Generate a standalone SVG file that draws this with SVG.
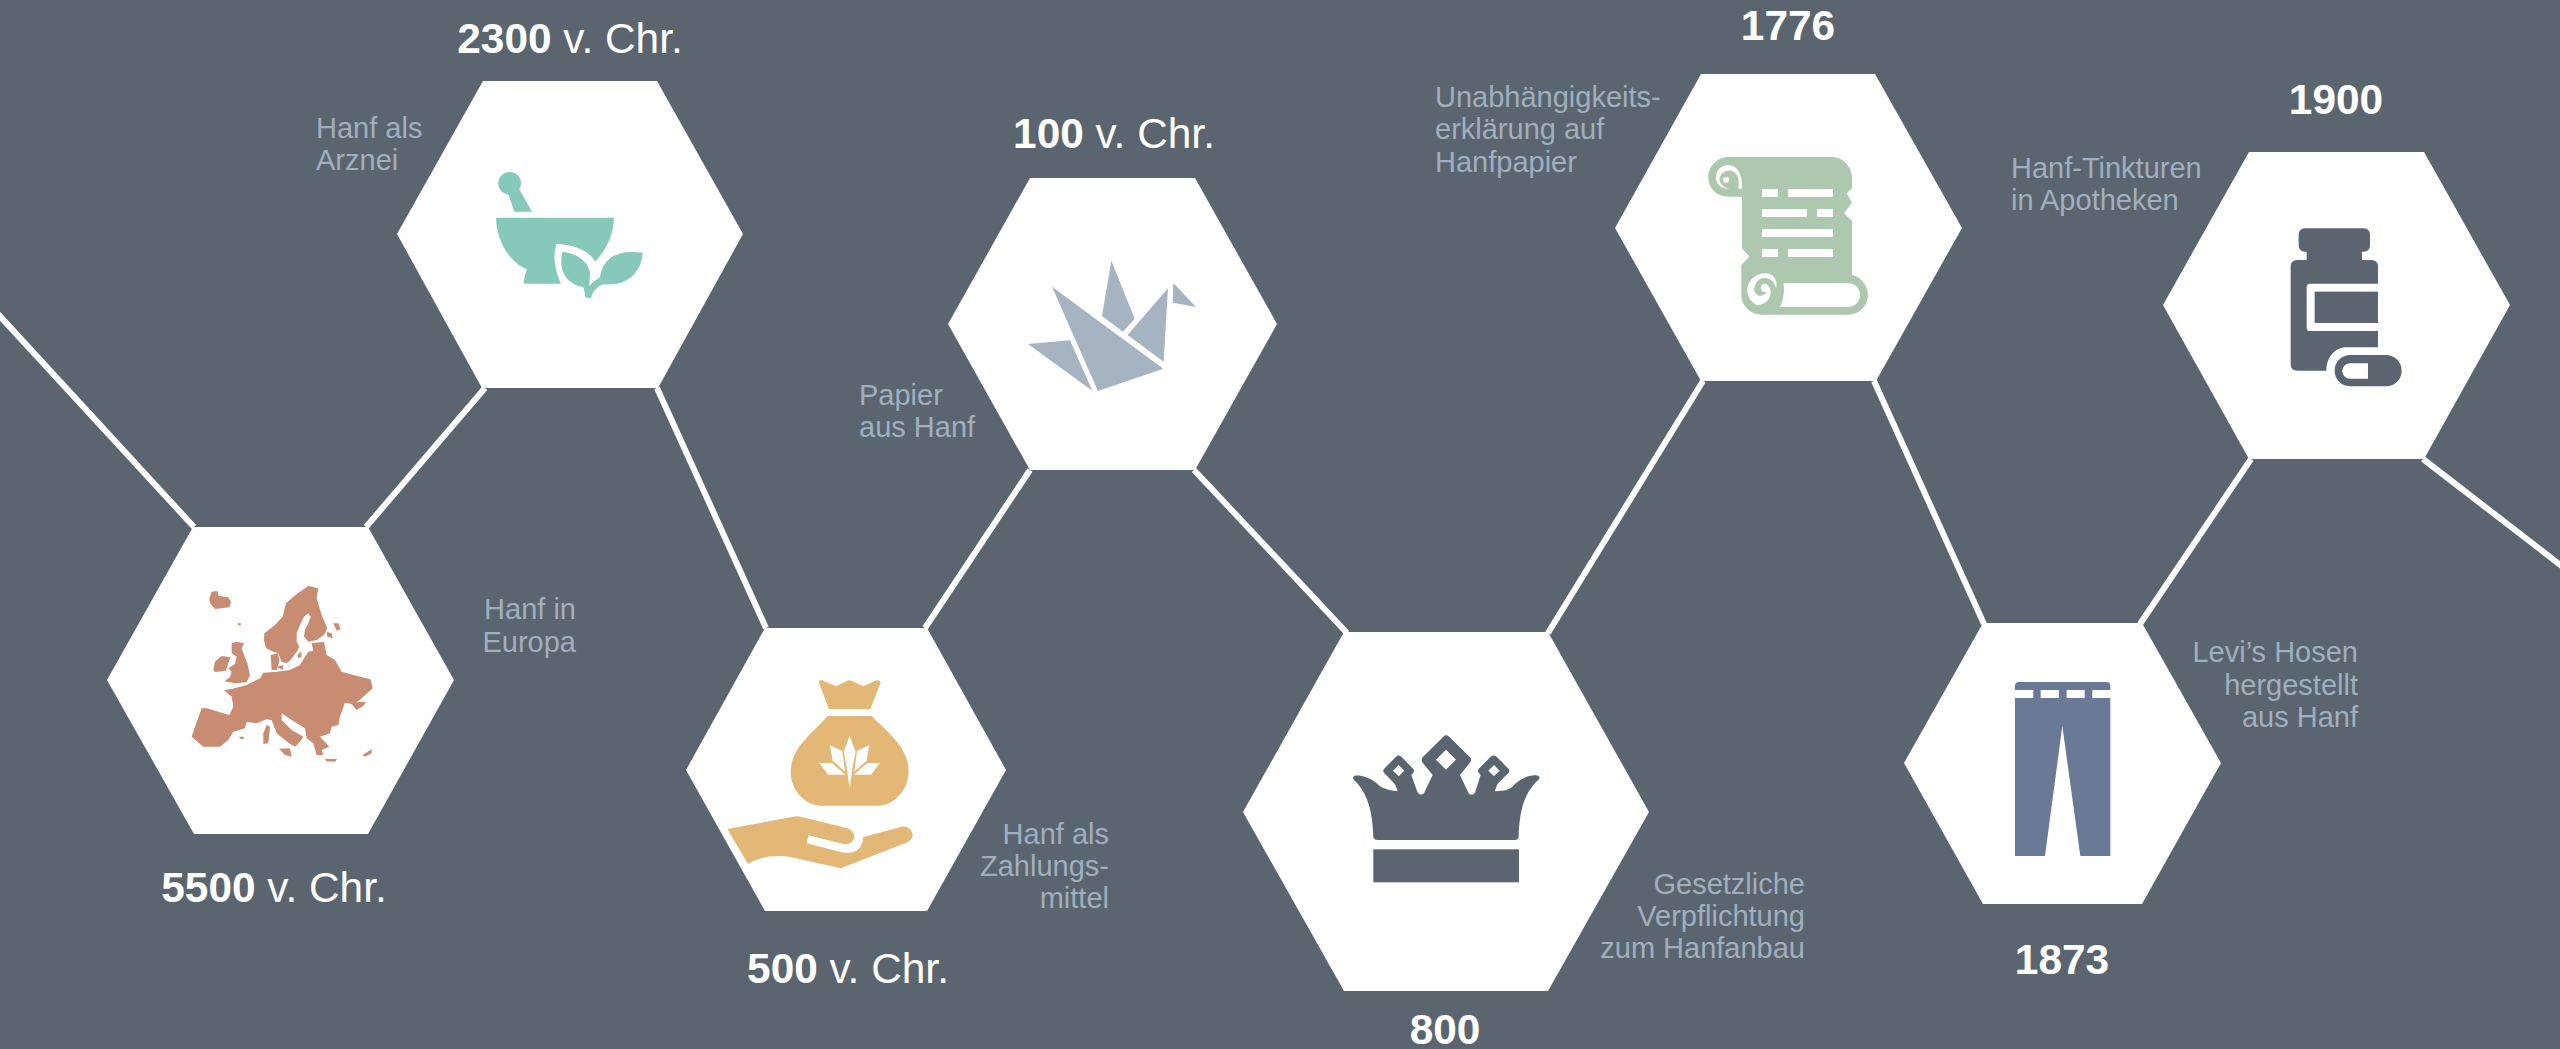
<svg xmlns="http://www.w3.org/2000/svg" width="2560" height="1049" viewBox="0 0 2560 1049">
<style>
.hex{fill:#fff}
.date{font:42.4px "Liberation Sans",Arial,sans-serif;fill:#fff;text-anchor:middle}
.date tspan{font-weight:bold}
.lab{font:29px "Liberation Sans",Arial,sans-serif;fill:#a0afbe}
.r{text-anchor:end}
.conn{stroke:#fff;stroke-width:6;fill:none}
.bgc{fill:#5b6570}
.w{fill:#fff}
</style>
<rect width="2560" height="1049" fill="#5b6570"/>
<g id="connectors" class="conn">
<line x1="-3" y1="313" x2="194" y2="527"/>
<line x1="485" y1="388" x2="366" y2="527"/>
<line x1="657" y1="388" x2="766" y2="628"/>
<line x1="925" y1="628" x2="1030" y2="470"/>
<line x1="1194" y1="470" x2="1347" y2="633"/>
<line x1="1548" y1="633" x2="1703" y2="381"/>
<line x1="1874" y1="381" x2="1984" y2="624"/>
<line x1="2140" y1="624" x2="2251" y2="459"/>
<line x1="2423" y1="459" x2="2563" y2="567"/>
</g>
<g id="node-5500">
<polygon class="hex" points="107,680 193,527 368,527 454,680 368,834 194,834"/>
<g transform="translate(100 520) scale(.3333)" fill="#c78c72">
<path d="M328,235L335,215L352,213L356,228L385,232L393,245L388,262L345,267L330,250Z"/>
<path d="M413,310H423L422,316H414Z"/>
<path d="M340,450L345,425L365,408L392,412L385,430L378,452L345,456Z"/>
<path d="M395,370L410,365L432,370L425,385L432,405L442,430L450,465L440,487L405,490L373,484L390,472L395,455L385,445L405,432L410,410L395,400Z"/>
<path d="M493,340L525,315L548,290L558,250L590,222L625,198L655,205L650,235L665,285L682,325L672,345L650,360L625,365L612,350L615,330L625,310L632,290L625,280L612,290L600,315L590,340L590,365L598,380L590,395L572,420L560,430L545,425L535,400L520,395L498,385L492,360Z"/>
<path d="M680,335L695,340L698,355L682,350Z"/>
<path d="M700,310L715,310L722,328L710,332Z"/>
<path d="M512,405L535,400L538,425L530,450L515,450Z"/>
<path d="M530,440L550,435L548,450Z"/>
<path d="M592,405L604,395L605,410L595,415Z"/>
<path d="M635,370L672,365L680,405L705,420L725,455L760,465L812,478L818,505L785,535L770,547L798,545L790,558L770,570L755,552L735,548L720,590L715,615L695,620L690,640L660,650L688,680L665,690L670,705L650,705L640,670L620,655L615,625L575,600L545,580L545,600L575,630L610,650L600,665L585,680L565,668L530,640L515,600L500,598L470,610L440,605L435,625L400,635L385,660L360,680L310,680L275,650L285,620L305,565L320,565L388,585L400,560L395,530L372,510L395,507L440,495L480,475L490,458L530,455L570,450L600,435L615,410L625,395L640,392Z"/>
<path d="M537,686L570,685L575,710L555,705Z"/>
<path d="M490,640L500,615L510,620L505,670L490,672Z"/>
<path d="M418,650H432L430,658L420,656Z"/>
<path d="M676,716L712,717L705,725L678,724Z"/>
<path d="M788,705L815,688V700L795,710Z"/>
</g>
<text class="date" x="274" y="902"><tspan>5500</tspan> v. Chr.</text>
<text class="lab r" x="576" y="619">Hanf in</text>
<text class="lab r" x="576" y="652">Europa</text>
</g>
<g id="node-2300">
<polygon class="hex" points="397,234 483,81 657,81 743,234 658,388 482,388"/>
<g transform="translate(400 70) scale(.3333)" fill="#86c9bb">
<circle cx="329" cy="340" r="34"/>
<path d="M325,372L358,358L396,425H343Z"/>
<path d="M288,443H642C640,500 615,545 585,575C570,545 530,525 470,522C460,550 460,590 483,641H371C373,625 375,610 381,598C325,575 290,510 288,443Z"/>
<path d="M488,545C525,550 565,570 570,610L568,648C580,635 590,630 600,622C605,580 635,535 728,548C725,600 690,650 610,643C590,650 578,665 573,685L555,682C555,670 553,660 550,652C490,640 475,590 488,545Z"/>
</g>
<text class="date" x="570" y="53"><tspan>2300</tspan> v. Chr.</text>
<text class="lab" x="316" y="138">Hanf als</text>
<text class="lab" x="316" y="170">Arznei</text>
</g>
<g id="node-500">
<polygon class="hex" points="686,770 765,628 927,628 1006,770 927,911 765,911"/>
<g transform="translate(680 620) scale(.3333)" fill="#e3b877">
<path d="M416,186C418,180 425,178 432,183L468,199L500,183Q508,178 516,183L550,199L586,182Q600,178 602,188L571,267H447Z"/>
<path d="M444,288H575C620,335 686,380 686,455C686,510 640,557 595,557H425C375,557 332,510 332,455C332,385 400,335 444,288Z"/>
<g class="w">
<path d="M509,348L527,395L518,440L509,507L500,440L491,395Z"/>
<path d="M450,376L487,393L495,455L458,422Z"/>
<path d="M568,376L531,393L523,455L560,422Z"/>
<path d="M418,429H456L496,464H445Z"/>
<path d="M600,429H562L522,464H573Z"/>
</g>
<path d="M142,627L340,590Q350,587 362,590L500,624C520,630 528,650 520,660Q512,675 490,672L386,646L380,670L485,697C520,705 548,690 550,651L665,620C685,615 700,635 698,648C695,660 685,665 675,670L482,745L335,712C290,703 245,708 204,732Z"/>
</g>
<text class="date" x="848" y="983"><tspan>500</tspan> v. Chr.</text>
<text class="lab r" x="1109" y="844">Hanf als</text>
<text class="lab r" x="1109" y="876">Zahlungs-</text>
<text class="lab r" x="1109" y="908">mittel</text>
</g>
<g id="node-100">
<polygon class="hex" points="948,324 1030,178 1195,178 1277,324 1195,470 1030,470"/>
<g transform="translate(940 170) scale(.3333)" fill="#a6b4c1">
<polygon points="336,350 670,596 474,663"/>
<polygon points="264,522 390,511 457,662"/>
<polygon points="514,272 584,446 549,485 486,438"/>
<polygon points="684,355 671,575 563,495"/>
<polygon points="700,339 768,411 698,398"/>
</g>
<text class="date" x="1114" y="148"><tspan>100</tspan> v. Chr.</text>
<text class="lab" x="859" y="405">Papier</text>
<text class="lab" x="859" y="437">aus Hanf</text>
</g>
<g id="node-800">
<polygon class="hex" points="1243,812 1344,632 1548,632 1649,812 1548,991 1344,991"/>
<g transform="translate(1240 620) scale(.3333)" class="bgc">
<rect x="400" y="688" width="437" height="99"/>
<path fill-rule="evenodd" d="M340,470C345,462 385,468 410,490C425,505 440,510 473,514C470,500 465,490 455,482L432,458Q428,452 432,447L468,410Q476,403 484,410L520,447Q524,452 520,458L514,465L532,515Q540,530 552,520L578,465L548,428Q542,420 548,412L610,350Q618,342 628,350L690,412Q696,420 690,428L660,465L686,520Q695,530 705,518L722,465L716,458Q712,452 716,447L752,410Q760,403 770,410L806,447Q810,452 806,458L782,482Q770,490 765,514C800,512 812,508 825,492C850,470 885,460 898,470Q900,476 895,480C850,520 838,580 836,650Q834,660 825,660H412Q402,660 400,650C398,580 385,520 342,480Q338,476 340,470ZM618,389L648,419L618,449L588,419ZM476,435L493,452L476,469L459,452ZM762,435L779,452L762,469L745,452Z"/>
</g>
<text class="date" x="1445" y="1044"><tspan>800</tspan></text>
<text class="lab r" x="1805" y="894">Gesetzliche</text>
<text class="lab r" x="1805" y="926">Verpflichtung</text>
<text class="lab r" x="1805" y="958">zum Hanfanbau</text>
</g>
<g id="node-1776">
<polygon class="hex" points="1615,228 1701,74 1875,74 1962,228 1876,381 1701,381"/>
<g transform="translate(1610 60) scale(.3333)" fill="#aec8b0">
<path d="M355,291H665C700,291 726,320 726,355V385L710,400L726,428L702,460L726,482V645C755,650 774,680 774,705C774,740 745,764 715,764H455C420,764 394,735 394,705V615L418,590L396,565V410H355C320,410 295,385 295,350C295,320 322,291 355,291Z"/>
<g class="w">
<path d="M355,315C380,315 397,340 397,386H355C330,386 318,370 318,350C318,330 335,315 355,315Z"/>
<path d="M520,670H715C735,670 750,685 750,705C750,725 735,741 715,741H510C520,720 525,695 520,670Z"/>
<path d="M465,640C495,640 505,665 497,690C490,725 460,742 440,735C420,725 410,705 412,685C415,660 440,640 465,640Z"/>
<rect x="456" y="387" width="48" height="24"/><rect x="534" y="387" width="135" height="24"/>
<rect x="456" y="447" width="135" height="24"/><rect x="621" y="447" width="48" height="24"/>
<rect x="456" y="507" width="213" height="24"/>
<rect x="456" y="567" width="48" height="24"/><rect x="534" y="567" width="135" height="24"/>
</g>
<path d="M397,388C360,390 338,388 328,360C330,335 355,325 372,335C390,350 388,372 384,386ZM350,352C342,350 337,358 340,365C348,372 360,366 358,356C356,352 352,352 350,352Z" fill-rule="evenodd"/>
<path d="M432,690C435,660 455,650 472,655C495,660 505,690 495,712C480,738 450,742 440,735C460,735 482,722 482,695C480,675 465,665 455,675C448,690 458,700 470,695C460,712 438,712 432,690Z"/>
</g>
<text class="date" x="1788" y="40"><tspan>1776</tspan></text>
<text class="lab" x="1435" y="107">Unabhängigkeits-</text>
<text class="lab" x="1435" y="139">erklärung auf</text>
<text class="lab" x="1435" y="172">Hanfpapier</text>
</g>
<g id="node-1873">
<polygon class="hex" points="1904,763 1983,623 2142,623 2221,763 2142,904 1983,904"/>
<g transform="translate(1900 610) scale(.3333)" fill="#6a7a96">
<path d="M345,240V228Q345,216 357,216H620Q631,216 631,228V240H577V264H554V240H500V264H477V240H422V264H400V240Z"/>
<path d="M345,264H631V738H541L487,348L435,738H345Z"/>
</g>
<text class="date" x="2062" y="974"><tspan>1873</tspan></text>
<text class="lab r" x="2358" y="662">Levi’s Hosen</text>
<text class="lab r" x="2358" y="695">hergestellt</text>
<text class="lab r" x="2358" y="727">aus Hanf</text>
</g>
<g id="node-1900">
<polygon class="hex" points="2163,305 2249,152 2424,152 2510,305 2424,459 2249,459"/>
<g transform="translate(2160 140) scale(.3333)" class="bgc">
<rect x="416" y="265" width="214" height="70" rx="18"/>
<rect x="440" y="330" width="166" height="35"/>
<path fill-rule="evenodd" d="M412,360H634Q654,360 654,380V431H450Q440,431 440,441V563Q440,573 450,573H654V622H560C525,622 500,650 499,692H412Q392,692 392,672V380Q392,360 412,360Z"/>
<rect x="464" y="455" width="190" height="94"/>
<path fill-rule="evenodd" d="M571,645H678A47,47 0 0 1 678,739H571A47,47 0 0 1 571,645ZM624,670H570A23,23 0 0 0 570,716H624Z"/>
</g>
<text class="date" x="2336" y="114"><tspan>1900</tspan></text>
<text class="lab" x="2011" y="178">Hanf-Tinkturen</text>
<text class="lab" x="2011" y="210">in Apotheken</text>
</g>
</svg>
